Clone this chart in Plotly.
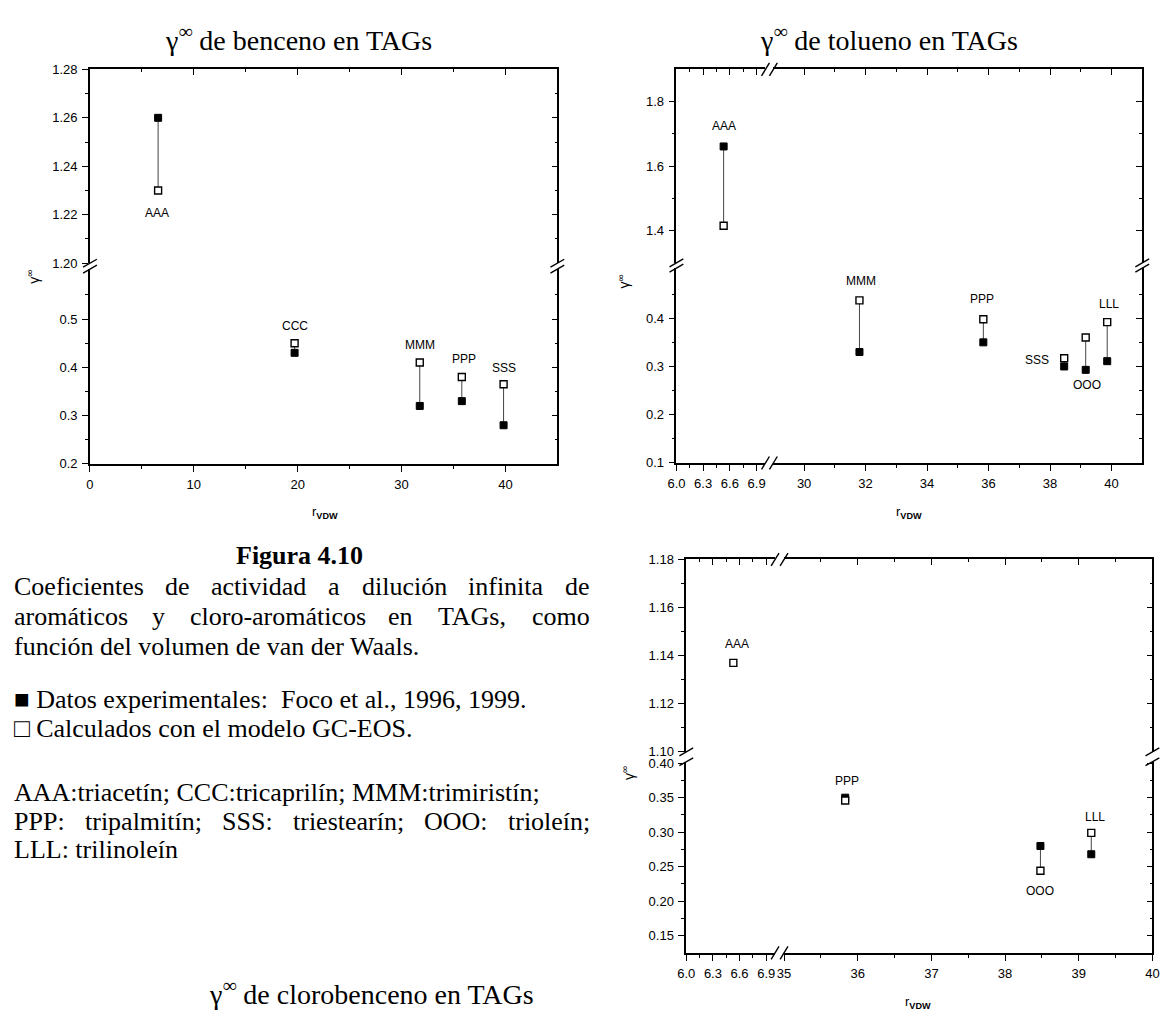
import plotly.graph_objects as go

W, H = 1168, 1021
SERIF = "Liberation Serif, Times New Roman, serif"
SANS = "Liberation Sans, Arial, sans-serif"

# ---------------- data ----------------
# benceno en TAGs
ben_names = ["AAA", "CCC", "MMM", "PPP", "SSS"]
ben_r = [6.56, 19.7, 31.75, 35.8, 39.82]
ben_exp = [1.26, 0.43, 0.32, 0.33, 0.28]
ben_calc = [1.23, 0.45, 0.41, 0.38, 0.365]

# tolueno en TAGs
tol_names = ["AAA", "MMM", "PPP", "SSS", "OOO", "LLL"]
tol_r = [6.53, 31.8, 35.83, 38.46, 39.16, 39.86]
tol_exp = [1.661, 0.33, 0.35, 0.30, 0.293, 0.311]
tol_calc = [1.415, 0.437, 0.398, 0.317, 0.36, 0.392]

# clorobenceno en TAGs
clo_names = ["AAA", "PPP", "OOO", "LLL"]
clo_r = [6.53, 35.83, 38.48, 39.17]
clo_exp = [None, 0.35, 0.28, 0.268]
clo_calc = [1.137, 0.346, 0.244, 0.299]

# tick values
ben_x_major = [0, 10, 20, 30, 40]
ben_x_minor = [5, 15, 25, 35]
ben_ylo_major = [0.2, 0.3, 0.4, 0.5]
ben_ylo_minor = [0.25, 0.35, 0.45, 0.55]
ben_yhi_major = [1.20, 1.22, 1.24, 1.26, 1.28]
ben_yhi_minor = [1.21, 1.23, 1.25, 1.27]

low_r_major = [6.0, 6.3, 6.6, 6.9]
low_r_minor = [6.15, 6.45, 6.75]

tol_x_major = [30, 32, 34, 36, 38, 40]
tol_x_minor = [31, 33, 35, 37, 39]
tol_ylo_major = [0.1, 0.2, 0.3, 0.4]
tol_ylo_minor = [0.15, 0.25, 0.35, 0.45]
tol_yhi_major = [1.4, 1.6, 1.8]
tol_yhi_minor = [1.5, 1.7]

clo_x_major = [35, 36, 37, 38, 39, 40]
clo_x_minor = [35.5, 36.5, 37.5, 38.5, 39.5]
clo_ylo_major = [0.15, 0.20, 0.25, 0.30, 0.35, 0.40]
clo_ylo_minor = [0.175, 0.225, 0.275, 0.325, 0.375]
clo_yhi_major = [1.10, 1.12, 1.14, 1.16, 1.18]
clo_yhi_minor = [1.11, 1.13, 1.15, 1.17]


# ---------------- helpers ----------------
def fx(p):
    return p / W


def fy(p):
    return 1 - p / H


fig = go.Figure()
layout_axes = {}
annotations = []
shapes = []
counter = {"x": 0, "y": 0}


def alloc(kind):
    counter[kind] += 1
    n = counter[kind]
    name = kind if n == 1 else f"{kind}{n}"
    key = f"{kind}axis" if n == 1 else f"{kind}axis{n}"
    return name, key


def axis_dict(seg, side, labels):
    outside = side in ("bottom", "left")
    tdir = "outside" if outside else "inside"
    return dict(
        side=side, range=list(seg["range"]), tickmode="array", tickvals=seg["major"],
        ticks=tdir, ticklen=6, tickwidth=1.3, tickcolor="black",
        showticklabels=labels, tickformat=seg["fmt"], ticklabelstandoff=2,
        tickfont=dict(family=SANS, size=13, color="black"),
        minor=dict(tickmode="array", tickvals=seg["minor"], ticks=tdir,
                   ticklen=3, tickwidth=1.3, tickcolor="black", showgrid=False),
        showline=True, linecolor="black", linewidth=1.6,
        showgrid=False, zeroline=False, fixedrange=True,
    )


def seg_index(segs, v):
    for k, s in enumerate(segs):
        lo, hi = s["range"]
        if lo <= v <= hi:
            return k
    return None


def slash(xc, yc, dx, dy):
    shapes.append(dict(type="line", xref="paper", yref="paper",
                       x0=fx(xc - dx), y0=fy(yc + dy), x1=fx(xc + dx), y1=fy(yc - dy),
                       line=dict(color="black", width=1.4)))


def placeholder(xn, yn):
    # keeps a subplot alive even when none of the points fall inside it
    fig.add_trace(go.Scatter(x=[None], y=[None], xaxis=xn, yaxis=yn, mode="markers",
                             showlegend=False, hoverinfo="skip"))


def build_panel(xsegs, ysegs, names, r, exp, calc, label_pos):
    nx, ny = len(xsegs), len(ysegs)
    cells = {}
    for i, xs in enumerate(xsegs):
        for j, ys in enumerate(ysegs):
            xsides = (["bottom"] if j == 0 else []) + (["top"] if j == ny - 1 else [])
            ysides = (["left"] if i == 0 else []) + (["right"] if i == nx - 1 else [])
            xn = [alloc("x") for _ in xsides]
            yn = [alloc("y") for _ in ysides]
            xp, yp = xn[0][0], yn[0][0]
            for k, (side, (nm, key)) in enumerate(zip(xsides, xn)):
                d = axis_dict(xs, side, side == "bottom")
                d["anchor"] = yp
                if k == 0:
                    d["domain"] = [fx(xs["dom"][0]), fx(xs["dom"][1])]
                else:
                    d["overlaying"] = xp
                    placeholder(nm, yp)
                layout_axes[key] = d
            for k, (side, (nm, key)) in enumerate(zip(ysides, yn)):
                d = axis_dict(ys, side, side == "left")
                d["anchor"] = xp
                if k == 0:
                    d["domain"] = [fy(ys["dom"][1]), fy(ys["dom"][0])]
                else:
                    d["overlaying"] = yp
                    placeholder(xp, nm)
                layout_axes[key] = d
            placeholder(xp, yp)
            cells[(i, j)] = (xp, yp)

    # data: connector, experimental (filled) and calculated (open) squares
    for (i, j), (xn, yn) in cells.items():
        lx, ly, ex, ey, cx, cy = [], [], [], [], [], []
        for k in range(len(names)):
            if seg_index(xsegs, r[k]) != i:
                continue
            e_in = exp[k] is not None and seg_index(ysegs, exp[k]) == j
            c_in = calc[k] is not None and seg_index(ysegs, calc[k]) == j
            if e_in:
                ex.append(r[k]); ey.append(exp[k])
            if c_in:
                cx.append(r[k]); cy.append(calc[k])
            if e_in and c_in:
                lx += [r[k], r[k], None]; ly += [exp[k], calc[k], None]
        if lx:
            fig.add_trace(go.Scatter(x=lx, y=ly, xaxis=xn, yaxis=yn, mode="lines",
                                     line=dict(color="#444444", width=1),
                                     showlegend=False, hoverinfo="skip"))
        if ex:
            fig.add_trace(go.Scatter(x=ex, y=ey, xaxis=xn, yaxis=yn, mode="markers",
                                     marker=dict(symbol="square", size=7, color="black",
                                                 line=dict(color="black", width=1)),
                                     showlegend=False))
        if cx:
            fig.add_trace(go.Scatter(x=cx, y=cy, xaxis=xn, yaxis=yn, mode="markers",
                                     marker=dict(symbol="square", size=7, color="white",
                                                 line=dict(color="black", width=1.4)),
                                     showlegend=False))

    # compound labels
    for k, nm in enumerate(names):
        ref, dx, dy = label_pos[nm]
        yv = exp[k] if ref == "exp" else calc[k]
        i, j = seg_index(xsegs, r[k]), seg_index(ysegs, yv)
        xn, yn = cells[(i, j)]
        annotations.append(dict(x=r[k], y=yv, xref=xn, yref=yn, text=nm, showarrow=False,
                                xshift=dx, yshift=dy, xanchor="center", yanchor="middle",
                                font=dict(family=SANS, size=12, color="black")))

    # axis break marks
    left, right = xsegs[0]["dom"][0], xsegs[-1]["dom"][1]
    top, bottom = ysegs[-1]["dom"][0], ysegs[0]["dom"][1]
    for j in range(ny - 1):
        for yb in (ysegs[j + 1]["dom"][1], ysegs[j]["dom"][0]):
            for xs_ in (left, right):
                slash(xs_, yb, 7, 4)
    for i in range(nx - 1):
        for xb in (xsegs[i]["dom"][1], xsegs[i + 1]["dom"][0]):
            for ys_ in (bottom, top):
                slash(xb, ys_, 4, 6.5)


def text(x, y, s, size, family=SERIF, xanchor="center", angle=0):
    annotations.append(dict(x=fx(x), y=fy(y), xref="paper", yref="paper", text=s,
                            showarrow=False, xanchor=xanchor, yanchor="middle",
                            textangle=angle, font=dict(family=family, size=size, color="black")))


# Times-Roman advance widths (1/1000 em) for justifying the caption
TIMES_W = {" ": 250, ",": 250, "-": 333, ".": 250, ":": 278, ";": 278,
           "A": 722, "C": 667, "G": 722, "L": 611, "M": 889, "O": 722, "P": 556,
           "S": 556, "T": 611, "W": 944,
           "a": 444, "b": 500, "c": 444, "d": 500, "e": 444, "f": 333, "g": 500,
           "h": 500, "i": 278, "l": 278, "m": 778, "n": 500, "o": 500, "p": 500,
           "r": 333, "s": 389, "t": 278, "u": 500, "v": 500, "y": 500,
           "á": 444, "é": 444, "í": 278, "ó": 500}


def tw(s, size):
    return sum(TIMES_W.get(ch, 500) for ch in s) * size / 1000


CAP = 26
LEFT_EDGE, RIGHT_EDGE = 3, 586


def justified(line, y):
    words = line.split()
    widths = [tw(w, CAP) for w in words]
    gap = (RIGHT_EDGE - LEFT_EDGE - sum(widths)) / (len(words) - 1)
    x = LEFT_EDGE
    for w, wd in zip(words, widths):
        text(x, y, w, CAP, xanchor="left")
        x += wd + gap


# ---------------- panels ----------------
build_panel(
    [dict(dom=(82.1, 556.0), range=(0, 45), major=ben_x_major, minor=ben_x_minor, fmt="d")],
    [dict(dom=(266, 463.7), range=(0.2, 0.6035), major=ben_ylo_major, minor=ben_ylo_minor, fmt=".1f"),
     dict(dom=(63.3, 260), range=(1.20, 1.28), major=ben_yhi_major, minor=ben_yhi_minor, fmt=".2f")],
    ben_names, ben_r, ben_exp, ben_calc,
    {"AAA": ("calc", -1, -22), "CCC": ("calc", 0, 17), "MMM": ("calc", 0, 18),
     "PPP": ("calc", 2, 18), "SSS": ("calc", 0, 16)},
)

build_panel(
    [dict(dom=(676.7, 767), range=(6.0, 7.0), major=low_r_major, minor=low_r_minor, fmt=".1f"),
     dict(dom=(775, 1149), range=(29, 41), major=tol_x_major, minor=tol_x_minor, fmt="d")],
    [dict(dom=(265, 462.7), range=(0.1, 0.504), major=tol_ylo_major, minor=tol_ylo_minor, fmt=".1f"),
     dict(dom=(63.3, 259.7), range=(1.30, 1.90), major=tol_yhi_major, minor=tol_yhi_minor, fmt=".1f")],
    tol_names, tol_r, tol_exp, tol_calc,
    {"AAA": ("exp", 0, 20), "MMM": ("calc", 2, 19), "PPP": ("calc", -1, 20),
     "SSS": ("exp", -27, 6), "OOO": ("exp", 1, -15), "LLL": ("calc", 2, 18)},
)

build_panel(
    [dict(dom=(686.7, 776.7), range=(6.0, 7.0), major=low_r_major, minor=low_r_minor, fmt=".1f"),
     dict(dom=(785.8, 1159.3), range=(35, 40), major=clo_x_major, minor=clo_x_minor, fmt="d")],
    [dict(dom=(766, 960), range=(0.125, 0.4021), major=clo_ylo_major, minor=clo_ylo_minor, fmt=".2f"),
     dict(dom=(560.7, 756), range=(1.10, 1.18), major=clo_yhi_major, minor=clo_yhi_minor, fmt=".2f")],
    clo_names, clo_r, clo_exp, clo_calc,
    {"AAA": ("calc", 4, 19), "PPP": ("exp", 2, 17), "OOO": ("calc", 0, -20), "LLL": ("calc", 4, 16)},
)

# ---------------- titles and axis titles ----------------
text(294, 32, "γ<sup>∞</sup> de benceno en TAGs", 28)
text(892, 32, "γ<sup>∞</sup> de tolueno en TAGs", 28)
text(368, 1000, "γ<sup>∞</sup> de clorobenceno en TAGs", 28)

RV = "r<sub><b>VDW</b></sub>"
GI = "γ<sup>∞</sup>"
text(320, 513, RV, 13, SANS)
text(913, 513, RV, 13, SANS)
text(922, 1010, RV, 13, SANS)
text(24, 274, GI, 14, SANS, angle=-90)
text(623, 278, GI, 14, SANS, angle=-90)
text(627, 777, GI, 14, SANS, angle=-90)

# ---------------- caption ----------------
text(295, 557, "<b>Figura 4.10</b>", CAP)
justified("Coeficientes de actividad a dilución infinita de", 588)
justified("aromáticos y cloro-aromáticos en TAGs, como", 619)
text(LEFT_EDGE, 649, "función del volumen de van der Waals.", CAP, xanchor="left")

text(LEFT_EDGE, 703, "■ Datos experimentales: \u00a0Foco et al., 1996, 1999.", CAP, xanchor="left")
text(LEFT_EDGE, 732, "□ Calculados con el modelo GC-EOS.", CAP, xanchor="left")

text(LEFT_EDGE, 797, "AAA:triacetín; CCC:tricaprilín; MMM:trimiristín;", CAP, xanchor="left")
justified("PPP: tripalmitín; SSS: triestearín; OOO: trioleín;", 827)
text(LEFT_EDGE, 855, "LLL: trilinoleín", CAP, xanchor="left")

fig.update_layout(
    width=W, height=H, autosize=False,
    margin=dict(l=0, r=0, t=0, b=0),
    paper_bgcolor="white", plot_bgcolor="white",
    showlegend=False,
    annotations=annotations, shapes=shapes,
    **layout_axes,
)

fig.write_html("out.html")
